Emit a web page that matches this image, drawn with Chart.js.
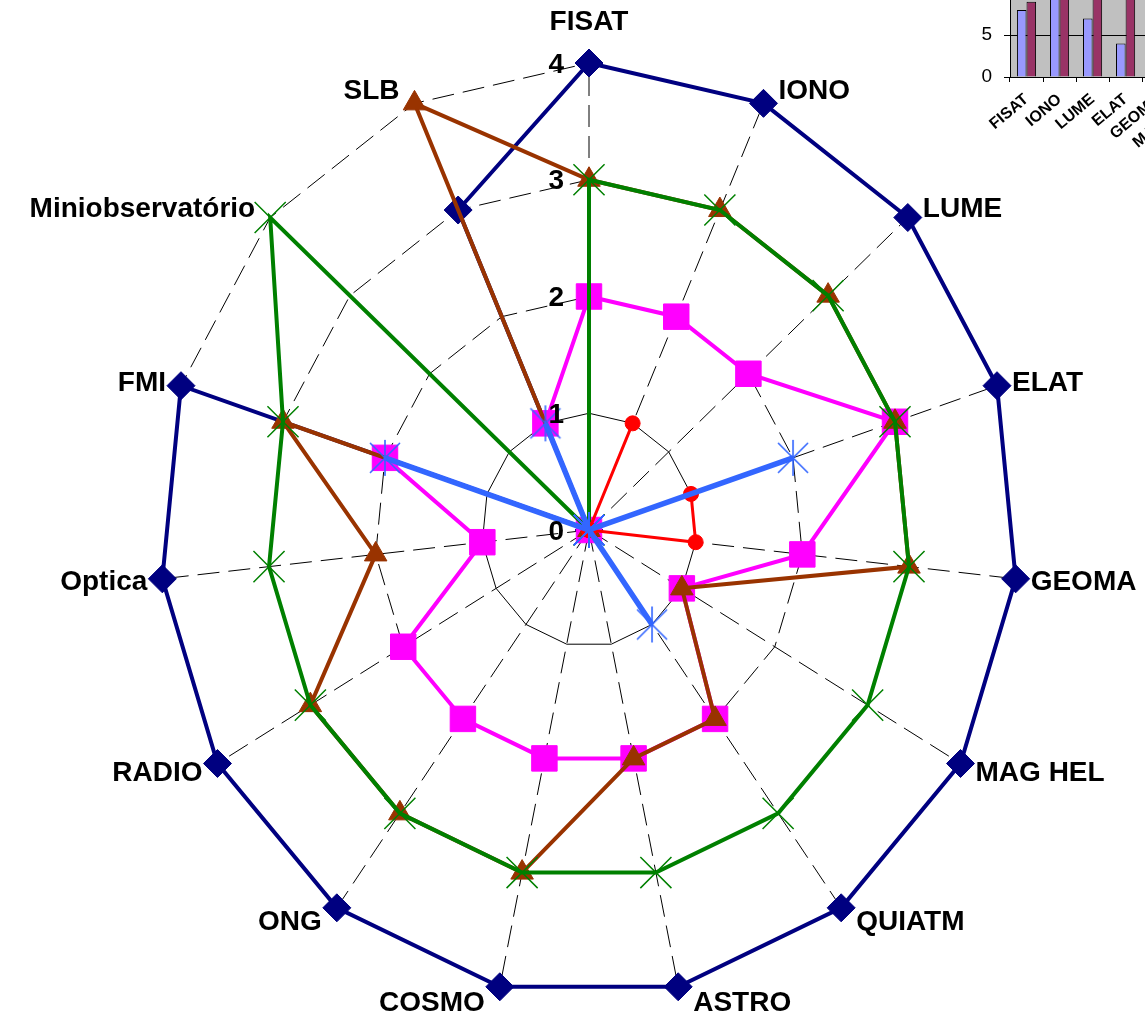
<!DOCTYPE html>
<html lang="pt">
<head>
<meta charset="UTF-8">
<title>Radar - grupos</title>
<script src="https://cdn.jsdelivr.net/npm/chart.js@4.4.0/dist/chart.umd.min.js"></script>
<style>
  html, body { margin: 0; padding: 0; background: #fff; overflow: hidden; }
  #wrap { position: relative; width: 1145px; height: 1014px; overflow: hidden; }
  #radar { position: absolute; left: 0; top: 0; }
  #inset { position: absolute; left: 970px; top: -72px; }
</style>
</head>
<body>
<div id="wrap">
  <canvas id="radar" width="1145" height="1014"></canvas>
  <canvas id="inset" width="242" height="229"></canvas>
</div>

<script>
// radar data
const categories = ['FISAT', 'IONO', 'LUME', 'ELAT', 'GEOMA', 'MAG HEL', 'QUIATM', 'ASTRO',
                    'COSMO', 'ONG', 'RADIO', 'Optica', 'FMI', 'Miniobservatório', 'SLB'];
const seriesNavy    = [4, 4, 4, 4, 4, 4, 4, 4, 4, 4, 4, 4, 4, 0, 3];
const seriesMagenta = [2, 2, 2, 3, 2, 1, 2, 2, 2, 2, 2, 1, 2, 0, 1];
const seriesBrown   = [3, 3, 3, 3, 3, 1, 2, 2, 3, 3, 3, 2, 3, 0, 4];
const seriesGreen   = [3, 3, 3, 3, 3, 3, 3, 3, 3, 3, 3, 3, 3, 4, 0];
const seriesRed     = [0, 1, 0, 1, 1, 0, 0, 0, 0, 0, 0, 0, 0, 0, 0];
const seriesBlue    = [0, 0, 0, 2, 0, 0, 1, 0, 0, 0, 0, 0, 2, 0, 1];
const tickValues    = [0, 1, 2, 3, 4];

// small bar chart in the corner (only the visible part)
const insetCategories = ['FISAT', 'IONO', 'LUME', 'ELAT', 'GEOMA', 'MAG HEL'];
const insetSeriesA    = [8, 12, 7, 4, null, null];
const insetSeriesB    = [9, 12, 12, 12, null, null];
const insetTicks      = [0, 5, 10, 15];

const FONT = '"Liberation Sans", Arial, sans-serif';
const KX = 429 / 467;   // the original plot is a bit narrower than tall

// Excel-like asterisk marker: an X plus a vertical stroke
function asteriskMarker(color) {
    const c = document.createElement('canvas');
    c.width = 36; c.height = 38;
    const g = c.getContext('2d');
    g.strokeStyle = color;
    g.lineWidth = 1.6;
    g.beginPath();
    g.moveTo(3, 4); g.lineTo(33, 34);
    g.moveTo(33, 4); g.lineTo(3, 34);
    g.moveTo(18, 1); g.lineTo(18, 37);
    g.stroke();
    return c;
}

// stretch the radial scale into an ellipse
const ellipsePlugin = {
    id: 'ellipse',
    afterLayout(chart) {
        const s = chart.scales.r;
        if (s._ellipse) return;
        const base = s.getPointPosition;
        s.getPointPosition = function (index, distance, extra) {
            const p = base.call(this, index, distance, extra);
            return { x: this.xCenter + (p.x - this.xCenter) * KX, y: p.y, angle: p.angle };
        };
        s._ellipse = true;
    }
};

// category names and tick numbers, Excel style
const labelPlugin = {
    id: 'radarLabels',
    afterDraw(chart) {
        const s = chart.scales.r;
        const ctx = chart.ctx;
        const rMax = s.getDistanceFromCenterForValue(s.max);
        ctx.save();
        ctx.fillStyle = '#000';
        ctx.font = 'bold 28px ' + FONT;
        ctx.textBaseline = 'middle';
        categories.forEach((label, i) => {
            const p = s.getPointPosition(i, rMax);
            const a = s.getIndexAngle(i);
            const sn = Math.sin(a), cs = Math.cos(a);
            if (Math.abs(sn) < 0.05) {
                ctx.textAlign = 'center';
                ctx.fillText(label, p.x, p.y - 41 * cs);
            } else {
                ctx.textAlign = sn > 0 ? 'left' : 'right';
                ctx.fillText(label, p.x + Math.sign(sn) * 15, p.y - cs * 15 + 2);
            }
        });
        ctx.textAlign = 'right';
        s.ticks.forEach(t => {
            const y = s.yCenter - s.getDistanceFromCenterForValue(t.value);
            ctx.fillText(t.label, s.xCenter - 25, y + 2);
        });
        ctx.restore();
    }
};

function series(data, color, style, radius, width, order, markerWidth) {
    return {
        data: data,
        borderColor: color,
        backgroundColor: color,
        borderWidth: width,
        pointStyle: style,
        pointRadius: radius,
        pointHoverRadius: radius,
        pointBorderWidth: markerWidth || 1,
        pointBorderColor: color,
        pointBackgroundColor: color,
        fill: false,
        tension: 0,
        order: order
    };
}

new Chart(document.getElementById('radar'), {
    type: 'radar',
    data: {
        labels: categories,
        datasets: [
            series(seriesNavy, '#000080', 'rectRot', 14, 4, 6),
            series(seriesMagenta, '#FF00FF', 'rect', 18, 4, 5),
            series(seriesBrown, '#993300', 'triangle', 13, 4, 4),
            series(seriesGreen, '#008000', 'crossRot', 22, 4, 3, 1.5),
            series(seriesRed, '#FF0000', 'circle', 7.5, 3, 2),
            series(seriesBlue, '#3366FF', asteriskMarker('#3366FF'), 16, 5.5, 1)
        ]
    },
    options: {
        responsive: false,
        animation: false,
        layout: { padding: { top: 63, bottom: 17, left: 122, right: 89 } },
        plugins: { legend: { display: false }, tooltip: { enabled: false } },
        scales: {
            r: {
                min: tickValues[0],
                max: tickValues[tickValues.length - 1],
                ticks: { display: false, stepSize: 1 },
                pointLabels: { display: false },
                grid: { color: '#000', lineWidth: 1 },
                border: { dash: (c) => (c.tick && c.tick.value === 1) ? [] : [22, 9] },
                angleLines: { color: '#000', lineWidth: 1, borderDash: [22, 9] }
            }
        }
    },
    plugins: [ellipsePlugin, labelPlugin]
});

// grey plot area of the corner chart
const plotBg = {
    id: 'plotBg',
    beforeDraw(chart) {
        const a = chart.chartArea;
        chart.ctx.save();
        chart.ctx.fillStyle = '#C0C0C0';
        chart.ctx.fillRect(a.left, a.top, a.right - a.left, a.bottom - a.top);
        chart.ctx.restore();
    }
};

new Chart(document.getElementById('inset'), {
    type: 'bar',
    data: {
        labels: insetCategories,
        datasets: [
            { data: insetSeriesA, backgroundColor: '#9999FF', borderColor: '#000', borderWidth: 1,
              categoryPercentage: 0.58, barPercentage: 1 },
            { data: insetSeriesB, backgroundColor: '#993366', borderColor: '#000', borderWidth: 1,
              categoryPercentage: 0.58, barPercentage: 1 }
        ]
    },
    options: {
        responsive: false,
        animation: false,
        layout: { padding: 0 },
        plugins: { legend: { display: false }, tooltip: { enabled: false } },
        scales: {
            x: {
                grid: { drawOnChartArea: false, color: '#000', tickLength: 5, offset: true },
                border: { color: '#000' },
                ticks: { autoSkip: false, minRotation: 40, maxRotation: 40, color: '#000', padding: 8,
                         font: { family: FONT, size: 16, weight: 'bold' } },
                afterFit(axis) { axis.height = 80; }
            },
            y: {
                min: insetTicks[0],
                max: insetTicks[insetTicks.length - 1],
                ticks: { stepSize: 5, color: '#000', padding: 12, font: { family: FONT, size: 19 } },
                grid: { color: '#000', tickLength: 6 },
                border: { color: '#000' },
                afterFit(axis) { axis.width = 40; }
            }
        }
    },
    plugins: [plotBg]
});
</script>
</body>
</html>
